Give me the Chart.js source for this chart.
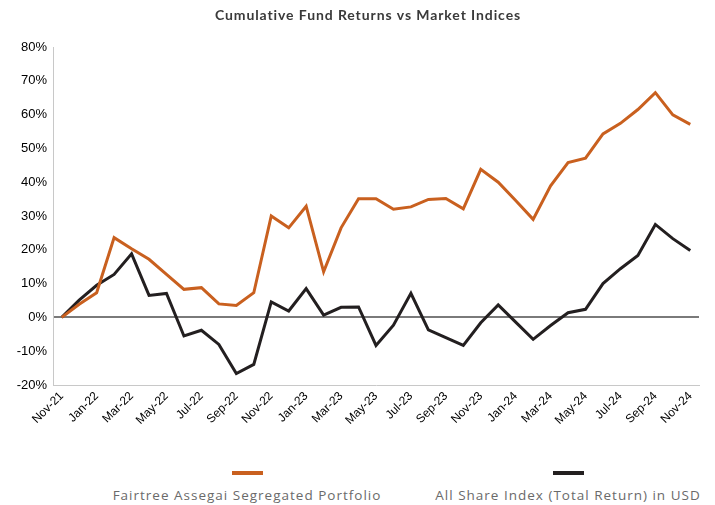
<!DOCTYPE html>
<html>
<head>
<meta charset="utf-8">
<script src="https://cdn.jsdelivr.net/npm/chart.js@4"></script>
<style>
  body { margin: 0; background: #fff; }
  #wrap { position: relative; width: 715px; height: 505px; }
  #chartBox { position: absolute; left: 0; top: 0; width: 715px; height: 455px; }
  .leg { position: absolute; top: 471px; width: 340px; text-align: center;
         font-family: "Open Sans", sans-serif; font-size: 13.5px; letter-spacing: 1px; color: #6a6a6a; }
  .leg .swatch { display: block; width: 31px; height: 4px; margin: 0 auto 11px auto; }
</style>
</head>
<body>
<div id="wrap">
  <div id="chartBox"><canvas id="linechart"></canvas></div>
  <div id="legend"></div>
</div>
<script>
// months, Nov-21 .. Nov-24
const months = ['Nov-21', 'Dec-21', 'Jan-22', 'Feb-22', 'Mar-22', 'Apr-22', 'May-22', 'Jun-22', 'Jul-22',
    'Aug-22', 'Sep-22', 'Oct-22', 'Nov-22', 'Dec-22', 'Jan-23', 'Feb-23', 'Mar-23', 'Apr-23', 'May-23',
    'Jun-23', 'Jul-23', 'Aug-23', 'Sep-23', 'Oct-23', 'Nov-23', 'Dec-23', 'Jan-24', 'Feb-24', 'Mar-24',
    'Apr-24', 'May-24', 'Jun-24', 'Jul-24', 'Aug-24', 'Sep-24', 'Oct-24', 'Nov-24'];

// cumulative returns in %
const fundReturns = [0, 3.9, 7.3, 23.6, 20.3, 17.2, 12.7, 8.3, 8.8, 4.0, 3.5, 7.3, 30.0, 26.5, 32.9, 13.5,
    26.5, 35.1, 35.1, 32.0, 32.7, 34.9, 35.2, 32.1, 43.8, 40.0, 34.6, 29.0, 38.9, 45.8, 47.1, 54.3, 57.4,
    61.5, 66.5, 59.9, 57.1];
const indexReturns = [0, 5.1, 9.5, 12.7, 18.8, 6.5, 7.1, -5.5, -3.8, -8.0, -16.6, -13.9, 4.6, 1.9, 8.5, 0.7,
    3.0, 3.1, -8.3, -2.3, 7.1, -3.7, -6.0, -8.3, -1.6, 3.7, -1.4, -6.5, -2.4, 1.4, 2.4, 10.0, 14.4, 18.3,
    27.5, 23.3, 19.8];

const seriesNames = ['Fairtree Assegai Segregated Portfolio', 'All Share Index (Total Return) in USD'];
const seriesColors = ['#c9601f', '#231f20'];
const chartTitle = 'Cumulative Fund Returns vs Market Indices';

// title drawn by hand so it can sit a bit right of the canvas centre
const titlePlugin = {
    id: 'topTitle',
    afterDraw: function (chart) {
        const c = chart.ctx;
        c.save();
        c.font = 'bold 14px Lato';
        c.letterSpacing = '0.9px';
        c.fillStyle = '#3a3a3a';
        c.textAlign = 'center';
        c.textBaseline = 'middle';
        c.fillText(chartTitle, 368, 15);
        c.restore();
    }
};

const ctx = document.getElementById('linechart').getContext('2d');

const linechart = new Chart(ctx, {
    type: 'line',
    data: {
        labels: months,
        datasets: [{
            label: seriesNames[0],
            data: fundReturns,
            borderColor: seriesColors[0],
            backgroundColor: seriesColors[0],
            borderWidth: 3,
            pointRadius: 0,
            tension: 0
        }, {
            label: seriesNames[1],
            data: indexReturns,
            borderColor: seriesColors[1],
            backgroundColor: seriesColors[1],
            borderWidth: 3,
            pointRadius: 0,
            tension: 0
        }]
    },
    plugins: [titlePlugin],
    options: {
        responsive: true,
        maintainAspectRatio: false,
        animation: false,
        layout: {
            padding: { left: 0, right: 16, top: 47, bottom: 0 }
        },
        plugins: {
            legend: { display: false },
            tooltip: { enabled: false },
            title: { display: false }
        },
        scales: {
            x: {
                offset: true,
                grid: { display: false, drawTicks: false },
                border: { display: true, color: '#c8c8c8', width: 1 },
                ticks: {
                    autoSkip: false,
                    maxRotation: 45,
                    minRotation: 45,
                    padding: 4,
                    color: '#000',
                    font: { family: 'Liberation Sans', size: 12 },
                    callback: function (value, index) {
                        return index % 2 === 0 ? months[index] : null;
                    }
                },
                afterFit: function (scale) {
                    scale.height = 70;
                }
            },
            y: {
                min: -20,
                max: 80,
                grid: {
                    drawTicks: false,
                    color: function (context) {
                        return context.tick.value === 0 ? '#7a7a7a' : 'rgba(0,0,0,0)';
                    },
                    lineWidth: function (context) {
                        return context.tick.value === 0 ? 2 : 0;
                    }
                },
                border: { display: true, color: '#c8c8c8', width: 1 },
                ticks: {
                    stepSize: 10,
                    padding: 6,
                    color: '#000',
                    font: { family: 'Liberation Sans', size: 13 },
                    callback: function (value) {
                        return value + '%';
                    }
                },
                afterFit: function (scale) {
                    scale.width = 53;
                }
            }
        }
    }
});

// legend below the chart: swatch on top, name underneath
const legendDiv = document.getElementById('legend');
const legendCentres = [247, 568];
linechart.data.datasets.forEach(function (ds, i) {
    const item = document.createElement('div');
    item.className = 'leg';
    item.style.left = (legendCentres[i] - 170) + 'px';
    const swatch = document.createElement('span');
    swatch.className = 'swatch';
    swatch.style.background = ds.borderColor;
    item.appendChild(swatch);
    item.appendChild(document.createTextNode(ds.label));
    legendDiv.appendChild(item);
});
</script>
</body>
</html>
